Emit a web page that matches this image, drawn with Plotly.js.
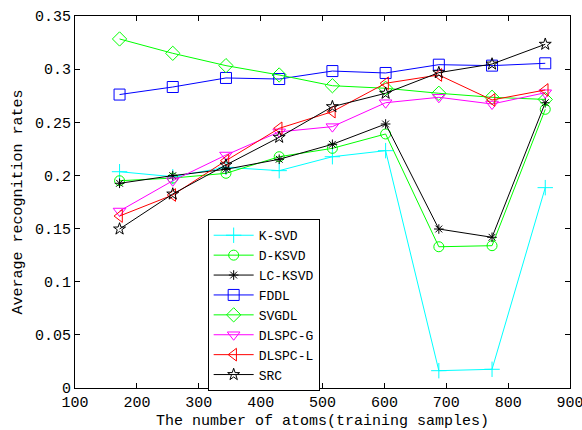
<!DOCTYPE html>
<html>
<head>
<meta charset="utf-8">
<script src="https://cdn.plot.ly/plotly-3.0.1.min.js"></script>
<style>html,body{margin:0;padding:0;background:#fff;}#chart{width:582px;height:430px;}</style>
</head>
<body>
<div id="chart"></div>
<script>
const atoms = [172, 258, 344, 430, 516, 602, 688, 774, 860];
const seriesNames = ["K-SVD", "D-KSVD", "LC-KSVD", "FDDL", "SVGDL", "DLSPC-G", "DLSPC-L", "SRC"];
const kSVD   = [0.2035, 0.1988, 0.2076, 0.2045, 0.2176, 0.2233, 0.0163, 0.0176, 0.1885];
const dKSVD  = [0.1950, 0.1975, 0.2020, 0.2176, 0.2255, 0.2390, 0.1329, 0.1339, 0.2622];
const lcKSVD = [0.1926, 0.1998, 0.2058, 0.2152, 0.2293, 0.2484, 0.1496, 0.1418, 0.2684];
const fddl   = [0.2761, 0.2832, 0.2917, 0.2907, 0.2982, 0.2964, 0.3042, 0.3033, 0.3055];
const svgdl  = [0.3284, 0.3149, 0.3033, 0.2945, 0.2844, 0.2820, 0.2773, 0.2735, 0.2715];
const dlspcG = [0.1665, 0.1950, 0.2192, 0.2410, 0.2459, 0.2684, 0.2735, 0.2672, 0.2778];
const dlspcL = [0.1618, 0.1816, 0.2139, 0.2443, 0.2600, 0.2867, 0.2945, 0.2710, 0.2804];
const src    = [0.1496, 0.1825, 0.2098, 0.2359, 0.2647, 0.2773, 0.2967, 0.3048, 0.3234];
const xTicks = [100, 200, 300, 400, 500, 600, 700, 800, 900];
const yTicks = [0, 0.05, 0.1, 0.15, 0.2, 0.25, 0.3, 0.35];
const yTickText = ["0", "0.05", "0.1", "0.15", "0.2", "0.25", "0.3", "0.35"];

const allY = [kSVD, dKSVD, lcKSVD, fddl, svgdl, dlspcG, dlspcL, src];
const colors = ["#00ffff", "#00ff00", "#000000", "#0000ff", "#00ff00", "#ff00ff", "#ff0000", "#000000"];
const symbols = ["cross-thin-open", "circle-open", "asterisk-open", "square-open", "diamond-open", "triangle-down-open", "triangle-left-open", "star-open"];
const sizes = [11, 10, 8, 11, 11, 11, 11, 9];

const traces = allY.map((y, i) => ({
  x: atoms, y: y, name: seriesNames[i], type: "scatter", mode: "lines+markers",
  line: {color: colors[i], width: 1},
  marker: {symbol: symbols[i], size: sizes[i], color: colors[i], line: {color: colors[i], width: 1}}
}));

const FAM = "Liberation Mono, monospace";
const f15 = {family: FAM, size: 15, color: "#000"};
const fLeg = {family: FAM, size: 13, color: "#000"};
const layout = {
  width: 582, height: 430,
  margin: {l: 75, r: 12, t: 16, b: 42, pad: 0},
  paper_bgcolor: "#fff", plot_bgcolor: "#fff",
  font: {family: FAM, size: 13, color: "#000"},
  showlegend: true,
  legend: {x: 0.268, y: 0.4535, xanchor: "left", yanchor: "top",
    bgcolor: "#fff", bordercolor: "#000", borderwidth: 1,
    font: fLeg, tracegroupgap: 0, itemwidth: 40},
  xaxis: {range: [100, 900], tickvals: xTicks, ticktext: xTicks.map(String),
    showgrid: false, zeroline: false, showline: true, linecolor: "#000", linewidth: 1,
    mirror: "allticks", ticks: "inside", ticklen: 5, tickcolor: "#000",
    ticklabeloverflow: "allow",
    tickfont: f15,
    title: {text: "The number of atoms(training samples)", standoff: 6, font: f15}},
  yaxis: {range: [0, 0.35], tickvals: yTicks, ticktext: yTickText,
    showgrid: false, zeroline: false, showline: true, linecolor: "#000", linewidth: 1,
    mirror: "allticks", ticks: "inside", ticklen: 5, tickcolor: "#000",
    ticklabeloverflow: "allow",
    tickfont: f15,
    title: {text: "Average recognition rates", standoff: 8, font: f15}}
};
Plotly.newPlot("chart", traces, layout, {displayModeBar: false, staticPlot: true});
</script>
</body>
</html>
